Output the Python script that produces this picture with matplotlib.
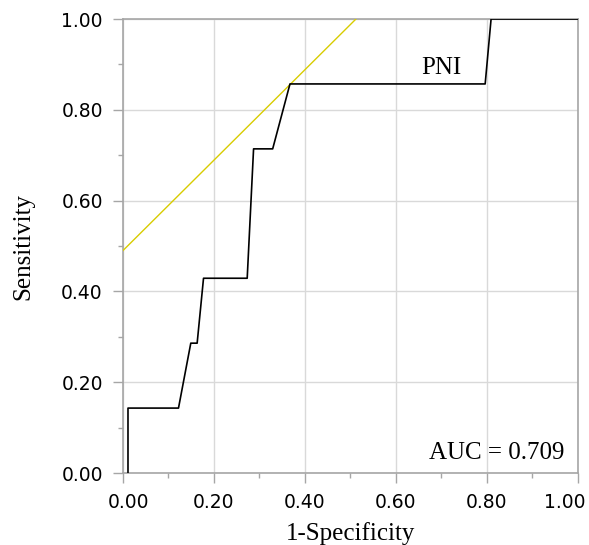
import matplotlib
matplotlib.use("Agg")
import matplotlib.pyplot as plt
import matplotlib.transforms as mtransforms
from matplotlib.ticker import MultipleLocator

# ROC curve points for PNI (1-specificity, sensitivity)
fpr = [0.011, 0.011, 0.122, 0.149, 0.163, 0.177, 0.273, 0.287, 0.329, 0.367, 0.796, 0.809, 1.000]
tpr = [0.000, 0.143, 0.143, 0.286, 0.286, 0.429, 0.429, 0.714, 0.714, 0.857, 0.857, 1.000, 1.000]

# Youden reference line (y = x + 0.49), clipped at sensitivity = 1
ref_x = [0.000, 0.512]
ref_y = [0.490, 1.000]

curve_label = "PNI"
auc_text = "AUC = 0.709"
tick_vals = [0.0, 0.2, 0.4, 0.6, 0.8, 1.0]

serif = ["Liberation Serif", "DejaVu Serif"]
frame_col = "#a6a6a6"

fig = plt.figure(figsize=(5.89, 5.45), dpi=100)
ax = fig.add_axes([0.2088, 0.1321, 0.7725, 0.833])

ax.plot(ref_x, ref_y, color="#d8cc00", lw=1.0, zorder=3)
ax.plot(fpr, tpr, color="black", lw=1.2, zorder=4)

ax.set_xlim(0, 1)
ax.set_ylim(0, 1)
ax.set_xticks(tick_vals)
ax.set_yticks(tick_vals)
ax.xaxis.set_minor_locator(MultipleLocator(0.1))
ax.yaxis.set_minor_locator(MultipleLocator(0.1))
ax.set_xticklabels([f"{v:.2f}" for v in tick_vals])
ax.set_yticklabels([f"{v:.2f}" for v in tick_vals])

ax.grid(True, which="major", color="#d9d9d9", lw=1.0, zorder=0)
for s in ax.spines.values():
    s.set_color(frame_col)
    s.set_linewidth(1.2)

ax.tick_params(which="major", length=7.5, width=1.0, color=frame_col,
               labelsize=13.5, labelcolor="black", pad=7)
ax.tick_params(which="minor", length=3.5, width=1.0, color=frame_col)
for lbl in ax.get_xticklabels() + ax.get_yticklabels():
    lbl.set_family("DejaVu Sans")

# first and last x tick labels are nudged inward, as in the original
xlbls = ax.get_xticklabels()
xlbls[0].set_transform(xlbls[0].get_transform()
                       + mtransforms.ScaledTranslation(4 / 72, 0, fig.dpi_scale_trans))
xlbls[-1].set_transform(xlbls[-1].get_transform()
                        + mtransforms.ScaledTranslation(-9.5 / 72, 0, fig.dpi_scale_trans))

ax.set_xlabel("1-Specificity", family=serif, fontsize=18, labelpad=7)
ax.set_ylabel("Sensitivity", family=serif, fontsize=18, labelpad=19)

ax.text(0.70, 0.878, curve_label, family=serif, fontsize=18,
        ha="center", va="baseline")
ax.text(0.971, 0.031, auc_text, family=serif, fontsize=18,
        ha="right", va="baseline")

fig.savefig("out.png", dpi=100)
